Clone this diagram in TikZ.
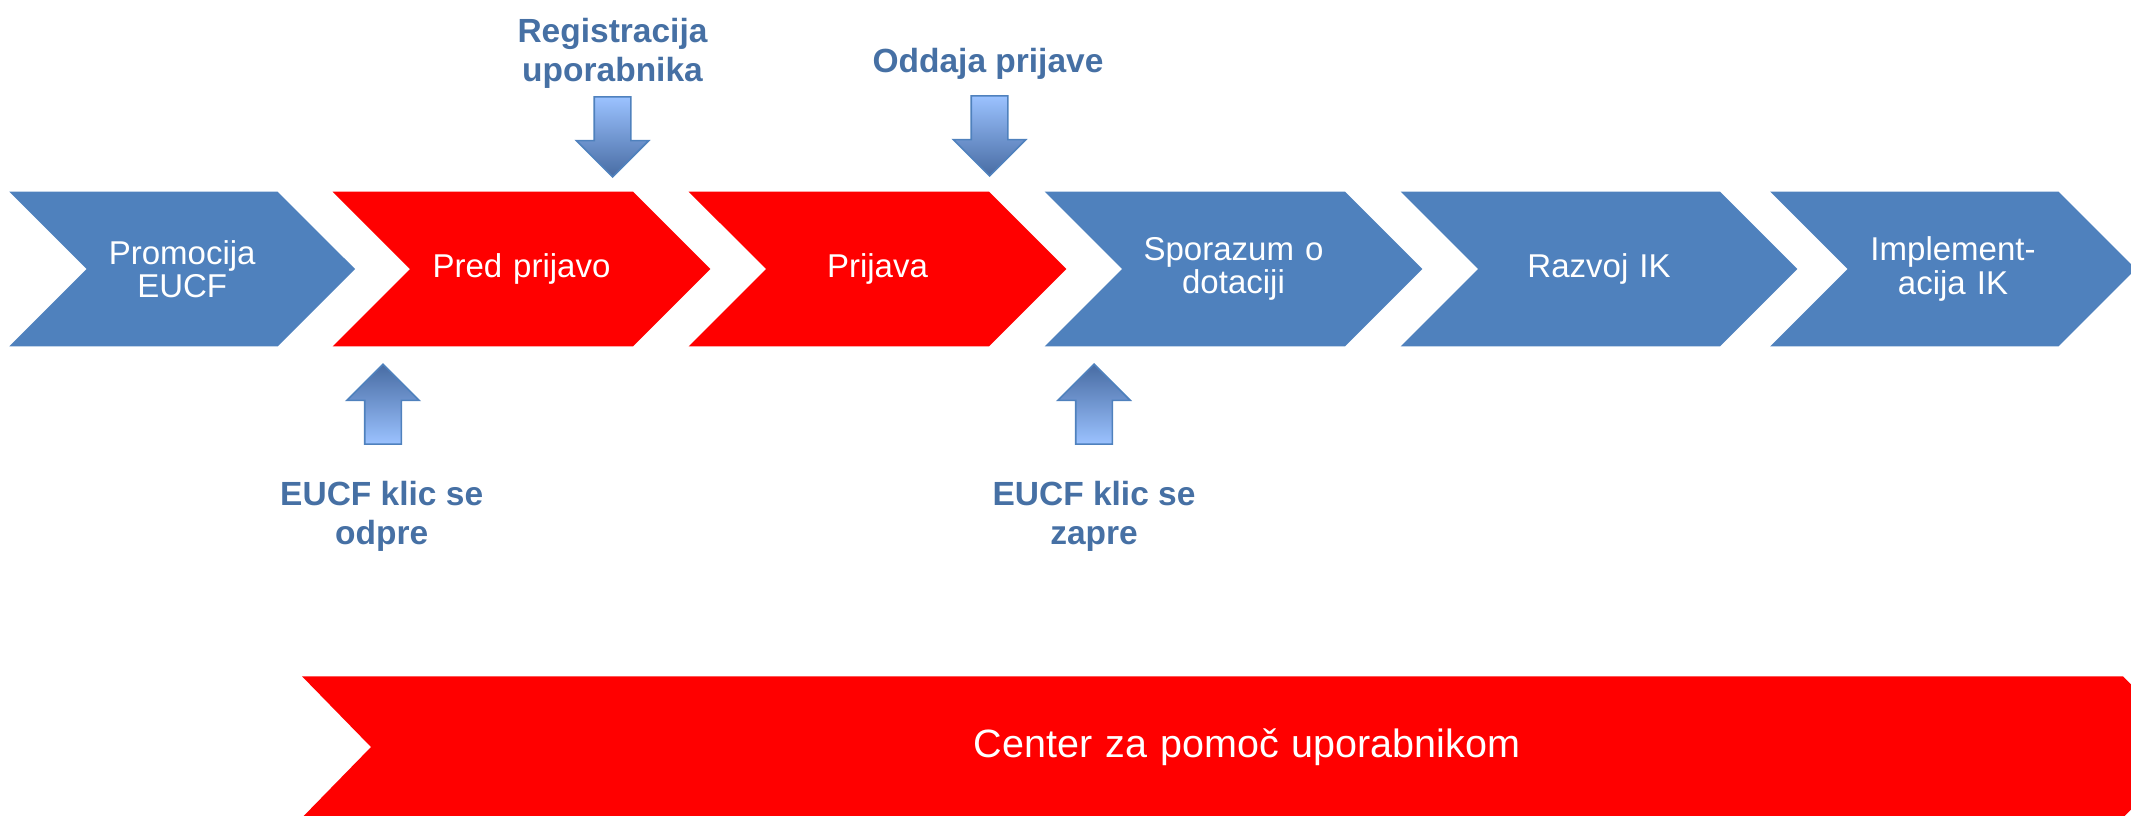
\documentclass[tikz,border=0pt]{standalone}
\usepackage{fontspec}
\setmainfont{Liberation Sans}
\usetikzlibrary{shapes.symbols, shapes.arrows}
\definecolor{stepblue}{RGB}{79,129,189}
\definecolor{stepred}{RGB}{255,0,0}
\definecolor{labelblue}{RGB}{70,112,164}
\definecolor{arrowlight}{RGB}{155,194,255}
\definecolor{arrowdark}{RGB}{72,108,163}

\begin{document}
\begin{tikzpicture}[x=0.5pt, y=-0.5pt,
    chev/.style={shape=signal, signal from=west, signal to=east, signal pointer angle=90,
      minimum height=77.3pt, inner xsep=0pt, inner ysep=0pt, align=center, text=white,
      font=\fontsize{16.5}{16.7}\selectfont},
    lbl/.style={align=center, text=labelblue, font=\bfseries\fontsize{16.75}{19.5}\selectfont},
    blk/.style={shape=single arrow, single arrow tip angle=90, single arrow head extend=9pt,
      minimum height=40pt, minimum width=35.5pt, inner sep=8.75pt, draw=stepblue, line width=0.8pt},
    arrdown/.style={blk, shape border rotate=270, top color=arrowlight, bottom color=arrowdark},
    arrup/.style={blk, shape border rotate=90, top color=arrowdark, bottom color=arrowlight}]
  \useasboundingbox (0,0) rectangle (2131,815);

  \node (prom) [chev, fill=stepblue, text width=95.5pt]  at (182.2,269)  {Promocija\\EUCF};
  \node (pred) [chev, fill=stepred,  text width=111.5pt] at (521.5,269)  {Pred prijavo};
  \node (prij) [chev, fill=stepred,  text width=111.5pt] at (877.5,269)  {Prijava};
  \node (spor) [chev, fill=stepblue, text width=111.5pt] at (1233.5,269) {Sporazum o\\dotaciji};
  \node (razv) [chev, fill=stepblue, text width=121pt]   at (1599,269)   {Razvoj IK};
  \node (impl) [chev, fill=stepblue, text width=105.5pt] at (1953,269)   {Implement-\\acija IK};

  \node (help) [chev, fill=stepred, signal pointer angle=91.4, text width=876pt,
    minimum height=70.7pt, font=\fontsize{19.75}{24}\selectfont] at (1247,747)
    {Center za pomoč uporabnikom};

  \node (reg)   [lbl] at (612.5,53)  {Registracija\\uporabnika};
  \node (odd)   [lbl] at (988,64)    {Oddaja prijave};
  \node (open)  [lbl] at (381.7,516) {EUCF klic se\\odpre};
  \node (close) [lbl] at (1094,516)  {EUCF klic se\\zapre};

  \node (regarr)   [arrdown, anchor=tip] at (612.5,178) {};
  \node (oddarr)   [arrdown, anchor=tip] at (989.5,177) {};
  \node (openarr)  [arrup, anchor=tip]   at (383,363)   {};
  \node (closearr) [arrup, anchor=tip]   at (1094,363)  {};
\end{tikzpicture}
\end{document}
